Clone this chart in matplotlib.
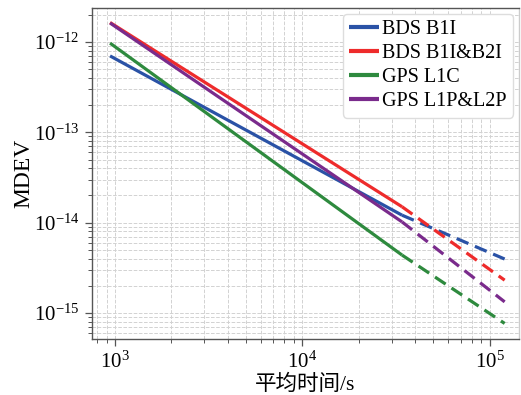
import matplotlib
matplotlib.use('Agg')
import matplotlib.pyplot as plt
from matplotlib.ticker import NullFormatter

plt.rcParams['font.family'] = ['Liberation Serif', 'Noto Sans CJK SC', 'DejaVu Sans']
plt.rcParams['mathtext.fontset'] = 'custom'
plt.rcParams['mathtext.rm'] = 'Liberation Serif'
plt.rcParams['mathtext.it'] = 'Liberation Serif:italic'

# 平均时间 (s): сплошная часть и экстраполяция
tau_solid = [940, 34000]
tau_dash = [34000, 120000]

labels = ['BDS B1I', 'BDS B1I&B2I', 'GPS L1C', 'GPS L1P&L2P']
colors = ['#2a52a6', '#ee2b2b', '#2e8a3e', '#7a2b8c']

mdev_solid = [
    [7.0e-13, 1.21e-14],
    [1.64e-12, 1.50e-14],
    [9.7e-13, 4.38e-15],
    [1.62e-12, 1.02e-14],
]
mdev_dash = [
    [1.21e-14, 3.96e-15],
    [1.50e-14, 2.31e-15],
    [4.38e-15, 7.67e-16],
    [1.02e-14, 1.33e-15],
]

xticks = [1e3, 1e4, 1e5]
yticks = [1e-15, 1e-14, 1e-13, 1e-12]

fig, ax = plt.subplots(figsize=(5.21, 3.95), dpi=100)
fig.subplots_adjust(left=0.1766, right=0.996, top=0.98, bottom=0.141)

for lab, c, ys, yd in zip(labels, colors, mdev_solid, mdev_dash):
    ax.plot(tau_solid, ys, color=c, lw=2.3, label=lab, solid_capstyle='butt')
    ax.plot(tau_dash, yd, color=c, lw=2.3, ls=(0, (4, 2.2)), dash_capstyle='butt')

ax.set_xscale('log')
ax.set_yscale('log')
ax.set_xticks(xticks)
ax.set_yticks(yticks)
ax.set_xlim(753, 1.43e5)
ax.set_ylim(5.12e-16, 2.38e-12)
ax.xaxis.set_minor_formatter(NullFormatter())
ax.yaxis.set_minor_formatter(NullFormatter())

ax.grid(True, which='both', ls='--', color='#d2d2d2', lw=0.7)
ax.set_axisbelow(True)
for s in ax.spines.values():
    s.set_color('#555555')
    s.set_linewidth(1.0)
ax.spines['right'].set_color('#cccccc')
ax.tick_params(which='major', direction='out', length=5, width=0.9, color='#555555',
               labelsize=15, pad=4)
ax.tick_params(which='minor', direction='out', length=3, width=0.7, color='#555555')

ax.set_xlabel('平均时间/s', fontsize=15.5, labelpad=1)
ax.set_ylabel('MDEV', fontsize=17, labelpad=0)

leg = ax.legend(loc='upper right', fontsize=14.5, handlelength=1.5, handletextpad=0.15,
                labelspacing=0.25, borderpad=0.3, borderaxespad=0.3, frameon=True,
                fancybox=True, edgecolor='#dddddd', framealpha=1.0)
for line in leg.get_lines():
    line.set_linewidth(3)

plt.savefig('out.png', dpi=100)
